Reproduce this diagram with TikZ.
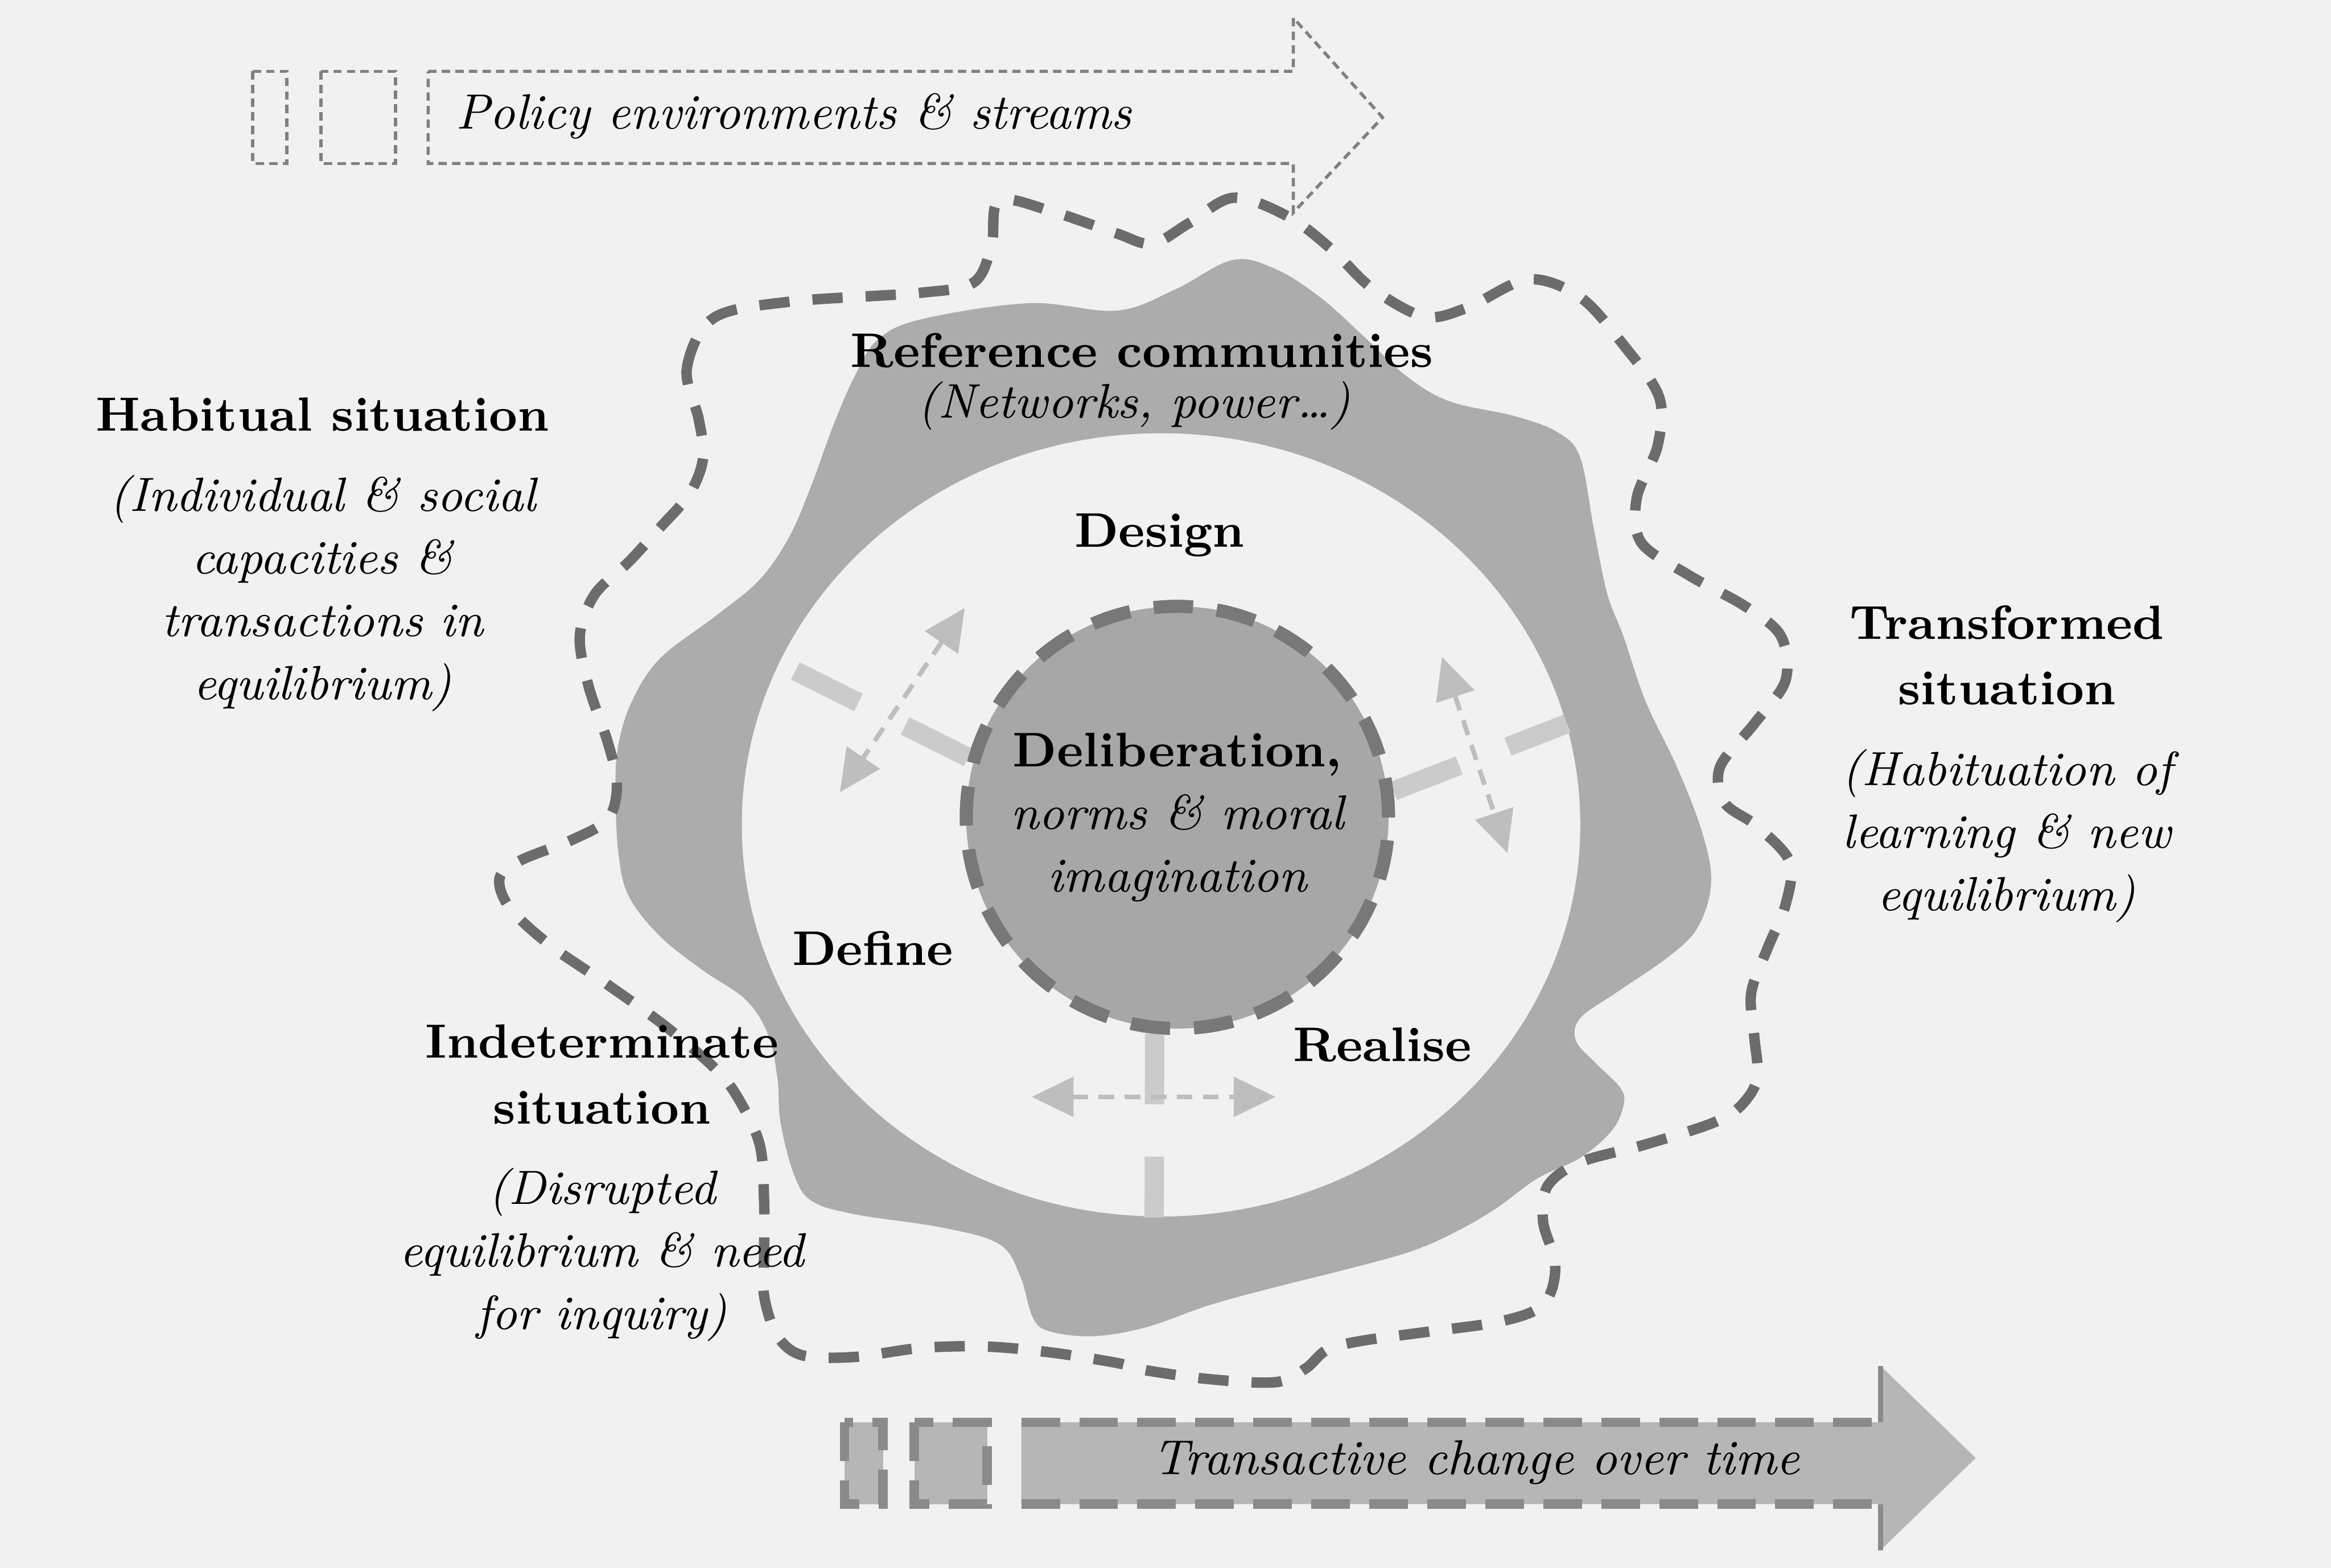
\documentclass[tikz,border=0pt]{standalone}
\usetikzlibrary{arrows.meta,shapes.geometric}
\definecolor{paperc}{RGB}{241,241,241}
\definecolor{blobc}{RGB}{172,172,172}
\definecolor{corec}{RGB}{167,167,167}
\definecolor{rimc}{RGB}{120,120,120}
\definecolor{edgec}{RGB}{108,108,108}
\definecolor{spokec}{RGB}{203,203,203}
\definecolor{tipc}{RGB}{190,190,190}
\definecolor{flowc}{RGB}{182,182,182}
\definecolor{flowe}{RGB}{138,138,138}
\definecolor{streamc}{RGB}{128,128,128}

\begin{document}
\begin{tikzpicture}[x=0.1mm,y=-0.1mm,font=\fontsize{9.3}{12}\selectfont,
  ttl/.style={font=\fontsize{9.3}{12}\selectfont\bfseries,align=center,inner sep=0pt},
  sub/.style={font=\fontsize{9.3}{12}\selectfont\itshape,align=center,inner sep=0pt},
  blk/.style={font=\fontsize{9.2}{12}\selectfont,align=center,inner sep=0pt},
  ring/.style={ellipse,fill=paperc,minimum width=5.64cm,minimum height=5.27cm,inner sep=0pt},
  core/.style={circle,fill=corec,draw=rimc,line width=2.5pt,dash pattern=on 7.5pt off 4.6pt,
               minimum size=2.84cm,inner sep=0pt,align=center},
  spk/.style={spokec,line width=3.7pt,dash pattern=on 13.5pt off 10pt},
  twy/.style={tipc,line width=0.9pt,dash pattern=on 3pt off 2pt,
              {Triangle[length=8pt,width=7.5pt]}-{Triangle[length=8pt,width=7.5pt]}},
  rim/.style={edgec,line width=2pt,dash pattern=on 5.8pt off 4.4pt},
  strm/.style={streamc,line width=0.6pt,dash pattern=on 1.6pt off 1pt},
  flw/.style={flowe,line width=1.8pt,dash pattern=on 7.4pt off 3.7pt}]

% paper
\fill[paperc] (0,0) rectangle (1568,1055);

%============================== the cell ==============================
% reference communities: the grey blob
\fill[blobc] plot[smooth cycle,tension=0.6] coordinates {
  (619,215) (692,204) (751,209) (790,195) (829,175) (858,181) (888,200) (917,226)
  (946,253) (975,270) (1019,280) (1048,291) (1063,308) (1072,355) (1081,399)
  (1092,428) (1107,472) (1128,516) (1145,560) (1151,594) (1142,624) (1122,644)
  (1087,668) (1063,685) (1060,700) (1072,714) (1090,732) (1092,744) (1084,761)
  (1063,779) (1034,793) (1005,814) (975,831) (946,843) (902,855) (858,866)
  (814,878) (771,893) (736,899) (707,896) (695,887) (686,858) (672,837) (634,826)
  (575,817) (546,808) (534,790) (525,755) (523,726) (517,697) (502,673) (473,653)
  (444,630) (423,603) (416,574) (414,530) (416,501) (425,472) (444,443) (482,414)
  (511,390) (531,361) (546,326) (561,285) (575,253) (590,229)};

\node[ring] (ring) at (781,555) {};

% spokes and the two-way arrows
\node[core] (delib) at (792,550) {};
\draw[spk] (delib.164) -- (ring.157);
\draw[spk] (delib.7) -- (ring.14);
\draw[spk] (delib.264) -- (ring.269);

\coordinate (ul1) at (649,409); \coordinate (ul2) at (565,533);
\coordinate (rt1) at (970,442); \coordinate (rt2) at (1014,574);
\coordinate (bt1) at (694,738); \coordinate (bt2) at (858,738);
\draw[twy] (ul1) -- (ul2);
\draw[twy] (rt1) -- (rt2);
\draw[twy] (bt1) -- (bt2);

\node[core] at (delib) {\bfseries Deliberation,\\ \itshape norms \& moral\\ \itshape imagination};

% the situation boundary
\draw[rim] plot[smooth cycle,tension=0.55] coordinates {
  (470,282) (462,248) (480,214) (531,203) (619,197) (655,190) (667,165) (672,135)
  (707,142) (751,157) (775,164) (800,150) (830,133) (867,146) (896,168) (923,194)
  (958,213) (987,207) (1028,188) (1063,200) (1092,232) (1116,267) (1115,300)
  (1101,335) (1104,365) (1136,387) (1174,408) (1198,428) (1201,458) (1180,487)
  (1157,516) (1160,540) (1182,556) (1204,580) (1201,609) (1189,638) (1178,668)
  (1180,697) (1182,726) (1170,745) (1151,756) (1107,770) (1063,782) (1041,798)
  (1038,822) (1046,849) (1043,870) (1032,882) (1005,890) (961,896) (917,902)
  (893,908) (878,921) (858,930) (814,928) (771,922) (751,917) (707,910) (663,906)
  (619,907) (575,913) (540,912) (523,899) (514,872) (514,843) (514,808) (511,770)
  (496,738) (480,718) (447,690) (408,662) (370,636) (343,611) (336,591) (350,579)
  (385,565) (409,551) (415,528) (409,500) (396,462) (390,428) (400,400) (423,378)
  (444,355) (464,332) (473,308)};

% labels on the cell
\node[ttl] (refc) at (768,236) {Reference communities};
\node[sub] (refn) at (763,273) {(Networks, power\dots)};
\node[ttl] (design) at (780,360) {Design};
\node[ttl] (define) at (587,638) {Define};
\node[ttl] (realise) at (930,703) {Realise};

% the three situations
\node[blk] (habit) at (217,373) {\bfseries Habitual situation\\[3.4pt]
  \itshape (Individual \& social\\ \itshape capacities \&\\
  \itshape transactions in\\ \itshape equilibrium)};
\node[blk] (trans) at (1350,514) {\bfseries Transformed\\[0.6pt] \bfseries situation\\[3.4pt]
  \itshape (Habituation of\\ \itshape learning \& new\\ \itshape equilibrium)};
\node[blk] (indet) at (405,796) {\bfseries Indeterminate\\[0.6pt] \bfseries situation\\[3.4pt]
  \itshape (Disrupted\\ \itshape equilibrium \& need\\ \itshape for inquiry)};

%============================== streams and time ==============================
\draw[strm] (170,48) rectangle (193,110);
\draw[strm] (216,48) rectangle (266,110);
\draw[strm] (288,48) -- (870,48) -- (870,12) -- (930,79) -- (870,143) -- (870,110) -- (288,110) -- cycle;
\node[sub,font=\fontsize{9.5}{12}\selectfont\itshape] (policy) at (534,78) {Policy environments \& streams};

\fill[flowc] (687,957) -- (1265,957) -- (1265,919) -- (1329,981) -- (1265,1043) -- (1265,1012) -- (687,1012) -- cycle;
\draw[flw] (687,957) -- (1265,957);
\draw[flw] (687,1012) -- (1265,1012);
\draw[flowe,line width=1pt] (1265,919) -- (1265,957) (1265,1012) -- (1265,1043);
\filldraw[flw,fill=flowc] (568,957) rectangle (594,1012);
\filldraw[flw,fill=flowc] (615,957) rectangle (664,1012);
\node[sub,font=\fontsize{9.4}{12}\selectfont\itshape] (time) at (993,984) {Transactive change over time};
\end{tikzpicture}
\end{document}
